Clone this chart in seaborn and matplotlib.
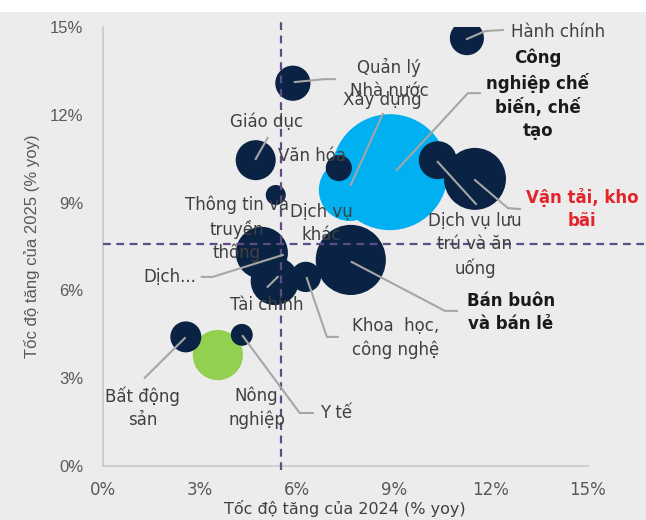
import matplotlib
matplotlib.use("Agg")
import pandas as pd
import matplotlib.pyplot as plt
import seaborn as sns
from matplotlib.patches import Rectangle

# Data (growth in %, bubble weight ~ area)
sectors = ["Công nghiệp chế biến, chế tạo", "Xây dựng", "Nông nghiệp",
           "Hành chính", "Quản lý Nhà nước", "Giáo dục", "Văn hóa",
           "Dịch vụ khác", "Thông tin và truyền thông", "Tài chính",
           "Khoa học, công nghệ", "Bán buôn và bán lẻ",
           "Dịch vụ lưu trú và ăn uống", "Vận tải, kho bãi",
           "Bất động sản", "Y tế"]
growth_2024 = [8.88, 7.64, 3.56, 11.26, 5.88, 4.73, 7.30, 5.35, 4.92, 5.32,
               6.28, 7.67, 10.36, 11.51, 2.57, 4.30]
growth_2025 = [10.04, 9.43, 3.79, 14.62, 13.08, 10.45, 10.18, 9.26, 7.28, 6.32,
               6.46, 7.04, 10.45, 9.81, 4.41, 4.48]
weight = [33.6, 9.6, 6.3, 2.9, 3.1, 4.0, 1.7, 1.0, 6.8, 5.8,
          2.3, 12.3, 3.6, 9.6, 2.4, 1.2]
group = ["highlight", "highlight", "agri"] + ["other"] * 13

avg_2024 = 5.5
avg_2025 = 7.6

xticks = [0, 3, 6, 9, 12, 15]
yticks = [0, 3, 6, 9, 12, 15]

df = pd.DataFrame({"sector": sectors, "g2024": growth_2024, "g2025": growth_2025,
                   "weight": weight, "group": group})

BG = "#ececec"
NAVY = "#0a2244"
colors = {"highlight": "#00b0f0", "agri": "#92d050", "other": NAVY}
LEADER = "#a6a6a6"
TXT = "#404040"
DASH = "#5f4b85"

fig = plt.figure(figsize=(6.46, 5.2), dpi=100, facecolor=BG)
fig.patches.append(Rectangle((0, 1 - 12 / 520), 1, 12 / 520, transform=fig.transFigure,
                             facecolor="white", edgecolor="none"))
ax = fig.add_axes([0.159, 0.104, 0.751, 0.844])
ax.set_facecolor(BG)

# marker area in pt^2 is proportional to weight
k = 207.4
wmin, wmax = min(weight), max(weight)
sns.scatterplot(data=df, x="g2024", y="g2025", hue="group", palette=colors,
                size="weight", sizes=(k * wmin, k * wmax), size_norm=(wmin, wmax),
                linewidth=0, alpha=1, legend=False, ax=ax, zorder=2)

ax.set_xlim(0, 15)
ax.set_ylim(0, 15)

# average lines (extend past the axes like the original)
ax.axvline(avg_2024, ymin=-0.01, ymax=1.02, color=DASH, lw=1.6,
           ls=(0, (3.5, 2.5)), clip_on=False, zorder=4)
ax.axhline(avg_2025, xmin=0, xmax=1.12, color=DASH, lw=1.6,
           ls=(0, (3.5, 2.5)), clip_on=False, zorder=4)

# leader lines
leaders = [
    [(11.26, 14.59), (11.82, 14.86), (12.37, 14.90)],
    [(9.09, 10.11), (11.29, 12.74), (11.66, 12.74)],
    [(5.94, 13.12), (6.87, 13.22), (7.18, 13.22)],
    [(7.67, 9.60), (8.66, 12.03)],
    [(4.73, 10.49), (5.10, 11.21)],
    [(3.06, 6.46), (3.40, 6.46), (5.57, 7.21)],
    [(5.10, 6.12), (5.41, 6.46)],
    [(6.31, 6.42), (6.93, 4.41), (7.27, 4.41)],
    [(7.70, 6.97), (10.58, 5.30), (10.95, 5.30)],
    [(10.36, 10.39), (11.54, 8.95)],
    [(11.51, 9.77), (12.53, 8.81), (12.90, 8.78)],
    [(2.54, 4.37), (1.30, 3.01)],
    [(4.33, 4.44), (6.09, 1.81), (6.50, 1.81)],
]
for pts in leaders:
    xs, ys = zip(*pts)
    ax.plot(xs, ys, color=LEADER, lw=1.5, zorder=5, clip_on=False)

# data labels
labels = [
    ("Hành chính", 12.62, 14.83, "left", "normal", TXT),
    ("Công\nnghiệp chế\nbiến, chế\ntạo", 13.45, 12.71, "center", "bold", "#1a1a1a"),
    ("Quản lý\nNhà nước", 8.85, 13.22, "center", "normal", TXT),
    ("Xây dựng", 8.63, 12.50, "center", "normal", TXT),
    ("Giáo dục", 5.07, 11.75, "center", "normal", TXT),
    ("Văn hóa", 6.46, 10.59, "center", "normal", TXT),
    ("Thông tin và\ntruyền\nthông", 4.14, 8.10, "center", "normal", TXT),
    ("Dịch vụ\nkhác", 6.77, 8.30, "center", "normal", TXT),
    ("Dịch...", 2.07, 6.46, "center", "normal", TXT),
    ("Tài chính", 5.07, 5.50, "center", "normal", TXT),
    ("Khoa  học,\ncông nghệ", 9.06, 4.37, "center", "normal", TXT),
    ("Bán buôn\nvà bán lẻ", 12.62, 5.23, "center", "bold", "#1a1a1a"),
    ("Dịch vụ lưu\ntrú và ăn\nuống", 11.51, 7.55, "center", "normal", TXT),
    ("Vận tải, kho\nbãi", 14.82, 8.78, "center", "bold", "#e3242b"),
    ("Bất động\nsản", 1.24, 1.98, "center", "normal", TXT),
    ("Nông\nnghiệp", 4.76, 1.98, "center", "normal", TXT),
    ("Y tế", 6.71, 1.81, "left", "normal", TXT),
]
for text, x, y, ha, weight_, color in labels:
    ax.text(x, y, text, ha=ha, va="center", multialignment="center",
            fontsize=12, fontweight=weight_, color=color, linespacing=1.35,
            zorder=6, clip_on=False)

ax.set_xticks(xticks)
ax.set_xticklabels([f"{t}%" for t in xticks])
ax.set_yticks(yticks)
ax.set_yticklabels([f"{t}%" for t in yticks], family="Liberation Sans")
ax.tick_params(axis="both", length=0, labelsize=12, labelcolor="#595959")
ax.tick_params(axis="x", pad=11)
ax.tick_params(axis="y", pad=14)

ax.set_xlabel("Tốc độ tăng của 2024 (% yoy)", fontsize=11.5, color="#404040")
ax.xaxis.set_label_coords(0.5, -0.0785)
ax.set_ylabel("Tốc độ tăng của 2025 (% yoy)", fontsize=12, color="#595959",
              family="Liberation Sans")
ax.yaxis.set_label_coords(-0.13, 0.5)

for side in ["top", "right"]:
    ax.spines[side].set_visible(False)
for side in ["left", "bottom"]:
    ax.spines[side].set_color("#c8c8c8")
    ax.spines[side].set_linewidth(1.2)

fig.savefig("out.png", dpi=100, facecolor=BG)
